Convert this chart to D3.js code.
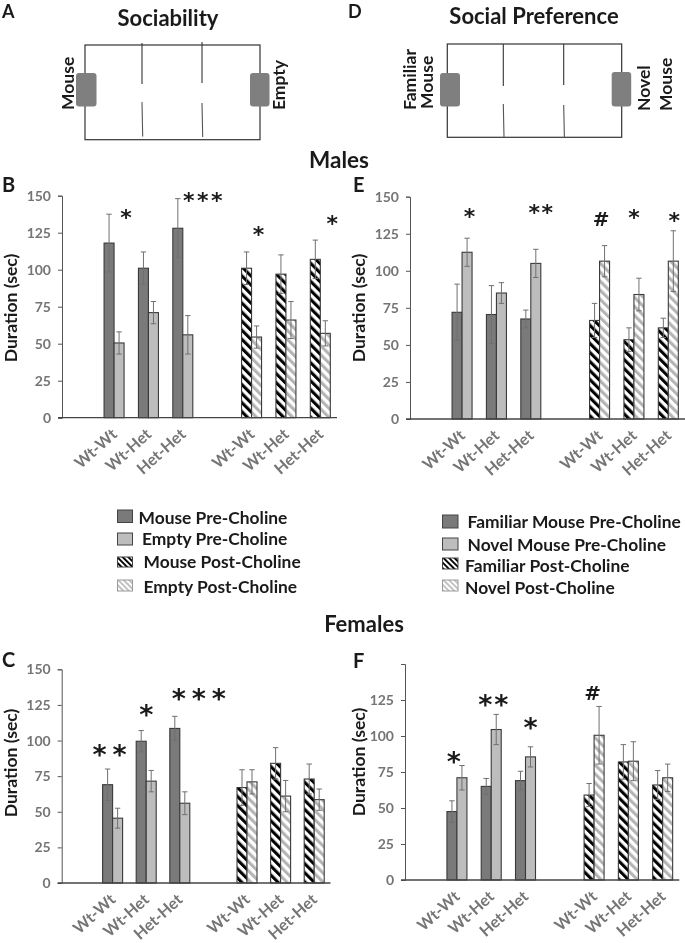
<!DOCTYPE html>
<html><head><meta charset="utf-8">
<script src="https://cdnjs.cloudflare.com/ajax/libs/d3/7.8.5/d3.min.js"></script>
<style>
html,body{margin:0;padding:0;background:#fff}
svg{display:block;filter:blur(0.4px)}
text{font-family:Lato,"Open Sans",sans-serif;font-weight:700}
</style></head><body>
<script>
// ---- data ----
const slots = ["g0","WW1","WH1","HH1","g1","WW2","WH2","HH2"];
const groupSlots = ["WW1","WH1","HH1","WW2","WH2","HH2"];
const groupLabels = ["Wt-Wt","Wt-Het","Het-Het","Wt-Wt","Wt-Het","Het-Het"];
const ticksFull = [0,25,50,75,100,125,150];
const ticksNoTop = [0,25,50,75,100,125];

const bMouse = [118,101,128,101,97,107];
const bMouseErr = [19.5,11,20,11,13,13];
const bEmpty = [50.5,71,56,54.5,66,57];
const bEmptyErr = [7.5,7.5,13,7.5,12.5,8.5];

const eFamiliar = [72,70.5,67.5,66.5,53.5,61.5];
const eFamiliarErr = [19,19.5,6,11.5,8,6.5];
const eNovel = [112.5,85,105,106.5,84,106.5];
const eNovelErr = [9.5,7,9.5,10.5,11,20.5];

const cMouse = [69,99.5,108.5,67,84,73];
const cMouseErr = [11,7.5,8.5,12.5,11,10.5];
const cEmpty = [45.5,71.5,56,71,61,58.5];
const cEmptyErr = [7,7.5,8,8.5,11,7.5];

const fFamiliar = [47.5,65,69,59,82,66];
const fFamiliarErr = [7.5,5.5,6.5,8,12,10];
const fNovel = [71,104.5,85.5,100.5,82.5,71];
const fNovelErr = [8.5,10.5,7,20,13.5,9.5];

// significance marks: slot, text, value level
const bMarks = [["WW1","*",137.6,12],["HH1","***",149.3,20],["WW2","*",126,7],["HH2","*",133.6,12]];
const eMarks = [["WW1","*",139,7.5],["HH1","**",141.7,10],["WW2","#",135,1.5],["WH2","*",138,0],["HH2","*",136,6]];
const cMarks = [["WW1","**",93.3,-3],["WH1","*",121.4,0],["HH1","***",132.6,19]];
const fMarks = [["WW1","*",85.4,-3],["WH1","**",124.5,2],["HH1","*",109,5],["WW2","#",130,-1.5]];

const legendLeft = ["Mouse Pre-Choline","Empty Pre-Choline","Mouse Post-Choline","Empty Post-Choline"];
const legendRight = ["Familiar Mouse Pre-Choline","Novel Mouse Pre-Choline","Familiar Post-Choline","Novel Post-Choline"];

// ---- styles ----
const DARK="#7a7a7a", LIGHT="#bdbdbd", OUT="#3a3a3a", ERR="#707070", TICK="#757575", INK="#1a1a1a";
const svg=d3.select("body").append("svg").attr("width",685).attr("height",943);
const defs=svg.append("defs");
function hatch(id,col,w,gap){
  const p=defs.append("pattern").attr("id",id).attr("patternUnits","userSpaceOnUse")
    .attr("width",gap).attr("height",gap).attr("patternTransform","rotate(-45)");
  p.append("rect").attr("width",gap).attr("height",gap).attr("fill","#fff");
  p.append("rect").attr("width",w).attr("height",gap).attr("fill",col);
}
hatch("hDark","#000",3.1,6.4);
hatch("hLight","#b4b4b4",3.1,6.4);
hatch("hDarkS","#000",1.9,3.9);
hatch("hLightS","#c0c0c0",1.9,3.9);

function panel(o){
  const g=svg.append("g");
  const x=d3.scaleBand().domain(slots).range([o.x0+0.5,o.x1+0.5]);
  const y=d3.scaleLinear().domain([0,150]).range([o.y0,o.yTop]);
  const half=10;
  const sub=d3.scaleBand().domain([0,1]).range([x.bandwidth()/2-half,x.bandwidth()/2+half]);
  // y axis
  const ya=g.append("g").attr("transform",`translate(${o.x0},0)`)
    .call(d3.axisLeft(y).tickValues(ticksFull).tickSize(4).tickPadding(7)
      .tickFormat(d=>o.ticks.includes(d)?d:""));
  ya.selectAll("path,line").attr("stroke","#555").attr("stroke-width",1);
  ya.selectAll("text").attr("fill",TICK).style("font-size","14px").attr("font-family",null);
  // series
  [[o.a,o.aErr,0],[o.b,o.bErr,1]].forEach(([vals,errs,s])=>{
    groupSlots.forEach((sl,i)=>{
      const fill = i<3 ? (s===0?DARK:LIGHT) : (s===0?"url(#hDark)":"url(#hLight)");
      const bx=x(sl)+sub(s);
      g.append("rect").attr("x",bx).attr("width",sub.bandwidth())
        .attr("y",y(vals[i])).attr("height",y(0)-y(vals[i]))
        .attr("fill",fill).attr("stroke",OUT).attr("stroke-width",1.1);
    });
  });
  [[o.a,o.aErr,0],[o.b,o.bErr,1]].forEach(([vals,errs,s])=>{
    groupSlots.forEach((sl,i)=>{
      const cx=x(sl)+sub(s)+sub.bandwidth()/2;
      const t=y(vals[i]+errs[i]), b=y(vals[i]-errs[i]);
      g.append("path").attr("d",`M${cx},${t}V${b}M${cx-2.7},${t}H${cx+2.7}M${cx-2.7},${b}H${cx+2.7}`)
        .attr("fill","none").attr("stroke",ERR).attr("stroke-width",1);
    });
  });
  // x axis
  g.append("line").attr("x1",o.x0-4).attr("x2",o.x1).attr("y1",y(0)).attr("y2",y(0))
    .attr("stroke","#444").attr("stroke-width",1.3);
  // category labels
  groupSlots.forEach((sl,i)=>{
    const cx=x(sl)+x.bandwidth()/2;
    g.append("text").text(groupLabels[i]).attr("text-anchor","end")
      .attr("transform",`translate(${cx+4},${y(0)+18}) rotate(-42)`)
      .attr("fill",TICK).style("font-size","16px");
  });
  // y label
  g.append("text").text("Duration (sec)").attr("text-anchor","middle")
    .attr("transform",`translate(${o.labX},${o.labY}) rotate(-90)`)
    .attr("fill",INK).style("font-size","17.6px");
  // marks
  o.marks.forEach(([sl,t,v,dx])=>{
    const cx=x(sl)+x.bandwidth()/2+dx, cy=y(v);
    const n=t.length;
    t.split("").forEach((ch,k)=>{
      const px=cx+(k-(n-1)/2)*o.markGap;
      g.append("text").text(ch).attr("text-anchor","middle")
        .attr("x",px).attr("y",ch==="#"?cy+7.5:cy+o.markSize*0.5)
        .attr("fill",INK)
        .style("font-family",'"DejaVu Sans",sans-serif')
        .style("font-weight",700)
        .style("font-size",(ch==="#"?20:o.markSize)+"px");
    });
  });
}

panel({x0:62,x1:337,y0:417.7,yTop:195.7,ticks:ticksFull,a:bMouse,aErr:bMouseErr,b:bEmpty,bErr:bEmptyErr,labX:17,labY:308,marks:bMarks,markGap:14,markSize:22});
panel({x0:410,x1:685,y0:419,yTop:196.7,ticks:ticksFull,a:eFamiliar,aErr:eFamiliarErr,b:eNovel,bErr:eNovelErr,labX:365,labY:308,marks:eMarks,markGap:13,markSize:22});
panel({x0:61.7,x1:330.5,y0:883,yTop:669.3,ticks:ticksFull,a:cMouse,aErr:cMouseErr,b:cEmpty,bErr:cEmptyErr,labX:17,labY:763,marks:cMarks,markGap:20,markSize:27});
panel({x0:405,x1:679.3,y0:880,yTop:664,ticks:ticksNoTop,a:fFamiliar,aErr:fFamiliarErr,b:fNovel,bErr:fNovelErr,labX:365,labY:762,marks:fMarks,markGap:16,markSize:27});

// ---- titles ----
function label(t,x,y,size,anchor,col){
  return svg.append("text").text(t).attr("x",x).attr("y",y).attr("text-anchor",anchor||"start")
    .attr("fill",col||INK).style("font-size",size+"px");
}
label("A",2,18,18); label("D",348,18,18); label("B",2,192,20);
label("E",353,192,20); label("C",2,667,20); label("F",353,668,20);
label("Sociability",168,26,22,"middle");
label("Social Preference",534,24,22,"middle");
label("Males",339,168,22.5,"middle");
label("Females",364,632,22,"middle");

// ---- arena schematics ----
function arena(o){
  const g=svg.append("g");
  g.append("rect").attr("x",o.x0).attr("y",o.y0).attr("width",o.x1-o.x0).attr("height",o.y1-o.y0)
    .attr("fill","none").attr("stroke","#333").attr("stroke-width",1.2);
  o.dividers.forEach(d=>{
    g.append("line").attr("x1",d[0]).attr("x2",d[0]).attr("y1",d[1]).attr("y2",d[2]).attr("stroke","#333").attr("stroke-width",1.1);
    g.append("line").attr("x1",d[0]).attr("x2",d[0]+0.7).attr("y1",d[3]).attr("y2",d[4]).attr("stroke","#555").attr("stroke-width",1.1);
  });
  o.cups.forEach(c=>{
    g.append("rect").attr("x",c[0]).attr("y",c[1]).attr("width",c[2]).attr("height",c[3]).attr("rx",3)
      .attr("fill","#7f7f7f");
  });
  o.texts.forEach(t=>{
    g.append("text").text(t[0]).attr("transform",`translate(${t[1]},${t[2]}) rotate(-90)`)
      .attr("fill",INK).style("font-size","17.5px");
  });
}
arena({x0:85,x1:260,y0:45,y1:139.7,
  dividers:[[142,43,84,102,136.5],[202,42,83,103,137]],
  cups:[[76,73,20.5,33.5],[250,73,19.5,33.5]],
  texts:[["Mouse",73.5,110],["Empty",284.5,110]]});
arena({x0:447.3,x1:621.7,y0:44,y1:137.3,
  dividers:[[503.3,44,86,104,137],[563.7,44,85,105,138]],
  cups:[[440,73,20,33.5],[611.7,72,19.5,34.5]],
  texts:[["Familiar",415.5,110],["Mouse",432.5,109],["Novel",649.5,111],["Mouse",671.5,111]]});

// ---- legends ----
function legend(names,fills,rows){
  names.forEach((n,i)=>{
    const r=rows[i];
    svg.append("rect").attr("x",r[0]).attr("y",r[1]).attr("width",r[2]).attr("height",r[3])
      .attr("fill",fills[i]).attr("stroke",i===3?"#999":"#444").attr("stroke-width",1);
    label(n,r[4],r[5],17.4);
  });
}
const legendFills=[DARK,LIGHT,"url(#hDarkS)","url(#hLightS)"];
legend(legendLeft,legendFills,[[117.5,510,15,12.5,138.5,524],[117.5,533,15,12,142,545],[117.5,557,15,10,143.5,568],[117.5,580,15,11,143.5,593]]);
legend(legendRight,legendFills,[[442.5,515,15.5,13,467.5,528],[442.5,538,15.5,12,467.5,551],[442.5,558,15.5,11,465,572],[442.5,580,15.5,11,465,594]]);
</script>
</body></html>
